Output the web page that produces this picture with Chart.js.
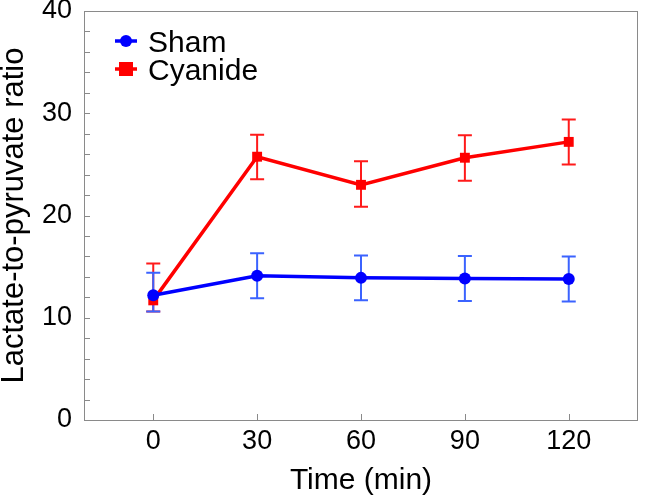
<!DOCTYPE html>
<html>
<head>
<meta charset="utf-8">
<script src="https://cdn.jsdelivr.net/npm/chart.js@4/dist/chart.umd.min.js"></script>
<style>
  html, body { margin: 0; padding: 0; background: #fff; }
  #wrap { width: 645px; height: 501px; position: relative; }
</style>
</head>
<body>
<div id="wrap"><canvas id="c" width="645" height="501"></canvas></div>
<script>
// ---- data ----
const times = [0, 30, 60, 90, 120];
const xTickValues = [0, 30, 60, 90, 120];
const yTickValues = [0, 10, 20, 30, 40];
const seriesNames = ["Sham", "Cyanide"];
const shamMean = [12.2, 14.1, 13.9, 13.85, 13.8];
const shamLow = [10.6, 11.9, 11.7, 11.65, 11.6];
const shamHigh = [14.4, 16.3, 16.1, 16.05, 16.0];
const cyanideMean = [11.7, 25.75, 23.0, 25.65, 27.2];
const cyanideLow = [10.6, 23.55, 20.85, 23.4, 25.0];
const cyanideHigh = [15.3, 27.9, 25.3, 27.85, 29.4];
const xTitle = "Time (min)";
const yTitle = "Lactate-to-pyruvate ratio";

const FONT = "'Liberation Sans', Arial, Helvetica, sans-serif";

const toPts = (ys) => times.map((t, i) => ({ x: t, y: ys[i] }));

const errorBars = {
  id: 'errorBars',
  beforeDatasetsDraw(chart) {
    const ctx = chart.ctx;
    const xs = chart.scales.x, ys = chart.scales.y;
    const sets = [
      { low: cyanideLow, high: cyanideHigh, color: '#ff1a1a' },
      { low: shamLow, high: shamHigh, color: '#3b63ff' }
    ];
    ctx.save();
    sets.forEach(s => {
      ctx.strokeStyle = s.color;
      ctx.lineWidth = 2;
      times.forEach((t, i) => {
        const px = xs.getPixelForValue(t);
        const y1 = ys.getPixelForValue(s.low[i]);
        const y2 = ys.getPixelForValue(s.high[i]);
        ctx.beginPath();
        ctx.moveTo(px, y1); ctx.lineTo(px, y2);
        ctx.moveTo(px - 7, y1); ctx.lineTo(px + 7, y1);
        ctx.moveTo(px - 7, y2); ctx.lineTo(px + 7, y2);
        ctx.stroke();
      });
    });
    ctx.restore();
  }
};

const frame = {
  id: 'frame',
  afterDraw(chart) {
    const ctx = chart.ctx;
    const a = chart.chartArea;
    const xs = chart.scales.x, ys = chart.scales.y;
    ctx.save();
    ctx.strokeStyle = '#8a8a8a';
    ctx.lineWidth = 1;
    ctx.strokeRect(Math.round(a.left) + 0.5, Math.round(a.top) + 0.5,
                   Math.round(a.right - a.left) - 1, Math.round(a.bottom - a.top));
    ctx.beginPath();
    for (let v = ys.min; v <= ys.max; v += 2) {
      const py = Math.round(ys.getPixelForValue(v)) + 0.5;
      ctx.moveTo(a.left, py); ctx.lineTo(a.left + 6, py);
    }
    xTickValues.forEach(v => {
      const px = Math.round(xs.getPixelForValue(v)) + 0.5;
      ctx.moveTo(px, a.bottom); ctx.lineTo(px, a.bottom - 6);
    });
    ctx.stroke();

    // legend
    const items = [
      { name: seriesNames[0], color: '#0000ff', shape: 'circle', y: 41 },
      { name: seriesNames[1], color: '#ff0000', shape: 'square', y: 69 }
    ];
    items.forEach(it => {
      ctx.strokeStyle = it.color;
      ctx.fillStyle = it.color;
      ctx.lineWidth = 3.5;
      ctx.beginPath();
      ctx.moveTo(115, it.y); ctx.lineTo(137, it.y);
      ctx.stroke();
      ctx.beginPath();
      if (it.shape === 'circle') {
        ctx.arc(126, it.y, 6, 0, Math.PI * 2);
        ctx.fill();
      } else {
        ctx.fillRect(126 - 7, it.y - 7, 14, 14);
      }
      ctx.fillStyle = '#000';
      ctx.font = '30px ' + FONT;
      ctx.textBaseline = 'alphabetic';
      ctx.textAlign = 'left';
      ctx.fillText(it.name, 148, it.y + 10.8);
    });
    ctx.restore();
  }
};

new Chart(document.getElementById('c'), {
  type: 'line',
  data: {
    datasets: [
      {
        label: seriesNames[0],
        data: toPts(shamMean),
        borderColor: '#0000ff',
        backgroundColor: '#0000ff',
        borderWidth: 3.5,
        pointStyle: 'circle',
        pointRadius: 6,
        pointHoverRadius: 6,
        pointBorderWidth: 0,
        tension: 0
      },
      {
        label: seriesNames[1],
        data: toPts(cyanideMean),
        borderColor: '#ff0000',
        backgroundColor: '#ff0000',
        borderWidth: 3.5,
        pointStyle: 'rect',
        pointRadius: 7,
        pointHoverRadius: 7,
        pointBorderWidth: 0,
        tension: 0
      }
    ]
  },
  options: {
    responsive: false,
    animation: false,
    devicePixelRatio: 1,
    layout: { padding: { top: 11, right: 2, left: 0, bottom: 0 } },
    plugins: {
      legend: { display: false },
      tooltip: { enabled: false }
    },
    scales: {
      x: {
        type: 'linear',
        min: -20,
        max: 140,
        afterBuildTicks(axis) { axis.ticks = xTickValues.map(v => ({ value: v })); },
        afterFit(scale) { scale.height = 81; scale.paddingLeft = 0; scale.paddingRight = 0; },
        grid: { display: false, drawTicks: false },
        border: { display: false },
        ticks: {
          color: '#000',
          padding: 5,
          maxRotation: 0,
          font: { family: FONT, size: 27 }
        },
        title: {
          display: true,
          text: xTitle,
          color: '#000',
          padding: { top: 0, bottom: 2 },
          font: { family: FONT, size: 30 }
        }
      },
      y: {
        type: 'linear',
        min: 0,
        max: 40,
        afterBuildTicks(axis) { axis.ticks = yTickValues.map(v => ({ value: v })); },
        afterFit(scale) { scale.width = 84; scale.paddingTop = 0; scale.paddingBottom = 0; },
        grid: { display: false, drawTicks: false },
        border: { display: false },
        ticks: {
          color: '#000',
          padding: 12,
          font: { family: FONT, size: 27 }
        },
        title: {
          display: true,
          text: yTitle,
          color: '#000',
          padding: { top: 0, bottom: 0 },
          font: { family: FONT, size: 31, lineHeight: 0.93 }
        }
      }
    }
  },
  plugins: [errorBars, frame]
});
</script>
</body>
</html>
